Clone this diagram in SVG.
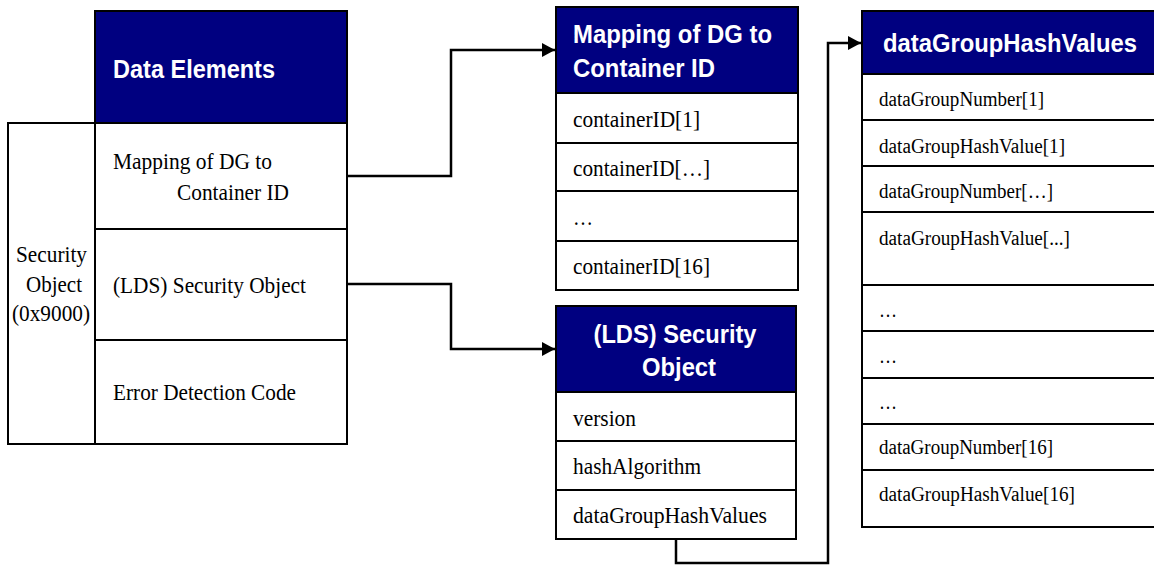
<svg xmlns="http://www.w3.org/2000/svg" width="1154" height="565" viewBox="0 0 1154 565">
  <style>
    .cell { fill: #ffffff; stroke: #000000; stroke-width: 2; }
    .head { fill: #000080; stroke: #000000; stroke-width: 2; }
    .hd { font-family: "Liberation Sans", Arial, sans-serif; font-weight: bold; font-size: 25px; fill: #ffffff; }
    .tx { font-family: "Liberation Serif", "Times New Roman", serif; font-size: 23px; fill: #000000; }
    .sm { font-family: "Liberation Serif", "Times New Roman", serif; font-size: 20px; fill: #000000; }
    .wire { fill: none; stroke: #000000; stroke-width: 2.5; }
  </style>
  <defs>
    <marker id="arrow" viewBox="0 0 13 14" refX="13" refY="7" markerWidth="13" markerHeight="14" markerUnits="userSpaceOnUse" orient="auto">
      <path d="M0,0 L13,7 L0,14 Z" fill="#000000"/>
    </marker>
  </defs>
  <rect width="1154" height="565" fill="#ffffff"/>

  <!-- Security Object container cell -->
  <g id="security-object">
    <rect class="cell" x="8" y="123" width="87" height="321"/>
    <text class="tx" x="51.5" y="262" text-anchor="middle" textLength="71" lengthAdjust="spacingAndGlyphs">Security</text>
    <text class="tx" x="54" y="292" text-anchor="middle" textLength="56" lengthAdjust="spacingAndGlyphs">Object</text>
    <text class="tx" x="51" y="321" text-anchor="middle" textLength="78" lengthAdjust="spacingAndGlyphs">(0x9000)</text>
  </g>

  <!-- Data Elements table -->
  <g id="data-elements">
    <rect class="head" x="95" y="11" width="252" height="112"/>
    <text class="hd" x="113" y="78" textLength="162" lengthAdjust="spacingAndGlyphs">Data Elements</text>
    <rect class="cell" x="95" y="123" width="252" height="106"/>
    <text class="tx" x="113" y="169" textLength="159" lengthAdjust="spacingAndGlyphs">Mapping of DG to</text>
    <text class="tx" x="177" y="200" textLength="112" lengthAdjust="spacingAndGlyphs">Container ID</text>
    <rect class="cell" x="95" y="229" width="252" height="111"/>
    <text class="tx" x="113" y="293" textLength="193" lengthAdjust="spacingAndGlyphs">(LDS) Security Object</text>
    <rect class="cell" x="95" y="340" width="252" height="104"/>
    <text class="tx" x="113" y="400" textLength="183" lengthAdjust="spacingAndGlyphs">Error Detection Code</text>
  </g>

  <!-- Mapping of DG to Container ID table -->
  <g id="dg-mapping">
    <rect class="head" x="556" y="7" width="242" height="86"/>
    <text class="hd" x="573" y="43" textLength="199" lengthAdjust="spacingAndGlyphs">Mapping of DG to</text>
    <text class="hd" x="573" y="77" textLength="142" lengthAdjust="spacingAndGlyphs">Container ID</text>
    <rect class="cell" x="556" y="93" width="242" height="50"/>
    <text class="tx" x="573" y="127" textLength="127" lengthAdjust="spacingAndGlyphs">containerID[1]</text>
    <rect class="cell" x="556" y="143" width="242" height="48"/>
    <text class="tx" x="573" y="176" textLength="137" lengthAdjust="spacingAndGlyphs">containerID[…]</text>
    <rect class="cell" x="556" y="191" width="242" height="50"/>
    <text class="tx" x="573" y="225" textLength="20" lengthAdjust="spacingAndGlyphs">…</text>
    <rect class="cell" x="556" y="241" width="242" height="49"/>
    <text class="tx" x="573" y="274" textLength="137" lengthAdjust="spacingAndGlyphs">containerID[16]</text>
  </g>

  <!-- (LDS) Security Object table -->
  <g id="lds-security-object">
    <rect class="head" x="556" y="306" width="240" height="86"/>
    <text class="hd" x="675" y="343" text-anchor="middle" textLength="163" lengthAdjust="spacingAndGlyphs">(LDS) Security</text>
    <text class="hd" x="679" y="376" text-anchor="middle" textLength="74" lengthAdjust="spacingAndGlyphs">Object</text>
    <rect class="cell" x="556" y="392" width="240" height="49"/>
    <text class="tx" x="573" y="426" textLength="63" lengthAdjust="spacingAndGlyphs">version</text>
    <rect class="cell" x="556" y="441" width="240" height="49"/>
    <text class="tx" x="573" y="474" textLength="128" lengthAdjust="spacingAndGlyphs">hashAlgorithm</text>
    <rect class="cell" x="556" y="490" width="240" height="49"/>
    <text class="tx" x="573" y="523" textLength="194" lengthAdjust="spacingAndGlyphs">dataGroupHashValues</text>
  </g>

  <!-- dataGroupHashValues table (runs past the right edge) -->
  <g id="data-group-hash-values">
    <rect class="head" x="862" y="11" width="300" height="63"/>
    <text class="hd" x="883" y="52" textLength="254" lengthAdjust="spacingAndGlyphs">dataGroupHashValues</text>
    <rect class="cell" x="862" y="74" width="300" height="46"/>
    <text class="sm" x="879" y="106" textLength="165" lengthAdjust="spacingAndGlyphs">dataGroupNumber[1]</text>
    <rect class="cell" x="862" y="120" width="300" height="46"/>
    <text class="sm" x="879" y="153" textLength="186" lengthAdjust="spacingAndGlyphs">dataGroupHashValue[1]</text>
    <rect class="cell" x="862" y="166" width="300" height="46"/>
    <text class="sm" x="879" y="198" textLength="174" lengthAdjust="spacingAndGlyphs">dataGroupNumber[…]</text>
    <rect class="cell" x="862" y="212" width="300" height="73"/>
    <text class="sm" x="879" y="245" textLength="191" lengthAdjust="spacingAndGlyphs">dataGroupHashValue[...]</text>
    <rect class="cell" x="862" y="285" width="300" height="46"/>
    <text class="sm" x="879" y="317" textLength="18" lengthAdjust="spacingAndGlyphs">…</text>
    <rect class="cell" x="862" y="331" width="300" height="47"/>
    <text class="sm" x="879" y="363" textLength="18" lengthAdjust="spacingAndGlyphs">…</text>
    <rect class="cell" x="862" y="378" width="300" height="46"/>
    <text class="sm" x="879" y="409" textLength="18" lengthAdjust="spacingAndGlyphs">…</text>
    <rect class="cell" x="862" y="424" width="300" height="46"/>
    <text class="sm" x="879" y="454" textLength="174" lengthAdjust="spacingAndGlyphs">dataGroupNumber[16]</text>
    <rect class="cell" x="862" y="470" width="300" height="57"/>
    <text class="sm" x="879" y="501" textLength="196" lengthAdjust="spacingAndGlyphs">dataGroupHashValue[16]</text>
  </g>

  <!-- Connectors -->
  <g id="connectors">
    <path class="wire" d="M347,176 H451 V50 H555" marker-end="url(#arrow)"/>
    <path class="wire" d="M347,284 H451 V349 H555" marker-end="url(#arrow)"/>
    <path class="wire" d="M676,539 V563 H828 V43 H861" marker-end="url(#arrow)"/>
  </g>
</svg>
